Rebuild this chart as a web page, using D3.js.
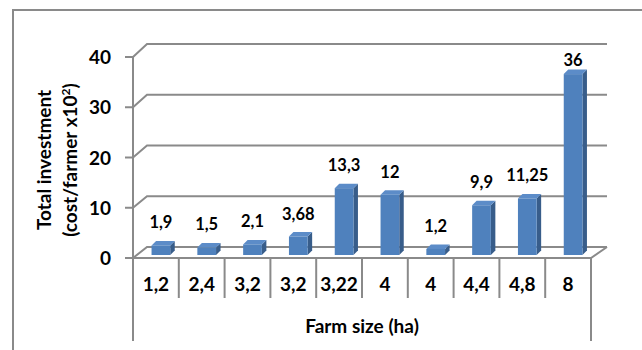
<!DOCTYPE html>
<html>
<head>
<meta charset="utf-8">
<script src="https://cdn.jsdelivr.net/npm/d3@7"></script>
<style>
  body { margin: 0; background: #fff; }
  text { font-family: Lato, "Noto Sans", sans-serif; font-weight: bold; fill: #000; }
</style>
</head>
<body>
<div id="chart-area"></div>
<script>
const farmSizes = ['1,2', '2,4', '3,2', '3,2', '3,22', '4', '4', '4,4', '4,8', '8'];
const investment = [1.9, 1.5, 2.1, 3.68, 13.3, 12, 1.2, 9.9, 11.25, 36];
const valueLabels = ['1,9', '1,5', '2,1', '3,68', '13,3', '12', '1,2', '9,9', '11,25', '36'];
const yTicks = [0, 10, 20, 30, 40];

const drawChart = () => {
  const chartSize = { width: 642, height: 350 };
  const depth = { dx: 14, dy: -11 };
  const grid = '#8a8a8a';

  const svg = d3.select('#chart-area')
    .append('svg')
    .attr('width', chartSize.width)
    .attr('height', chartSize.height);

  // outer chart border (runs off the right/bottom of the picture)
  svg.append('rect')
    .attr('x', 13).attr('y', 10)
    .attr('width', 660).attr('height', 360)
    .attr('fill', 'none').attr('stroke', '#8a8a8a').attr('stroke-width', 2);

  const x = d3.scaleBand()
    .domain(d3.range(farmSizes.length))
    .range([133, 591]);

  const yFront = d3.scaleLinear().domain([0, 40]).range([258, 57]);
  const yBack = d3.scaleLinear().domain([0, 40]).range([258 + depth.dy, 57 + depth.dy - 2]);
  const yBar = d3.scaleLinear().domain([0, 40]).range([255, 54]);

  const left = x.range()[0], right = x.range()[1];

  // back wall gridlines with the little diagonal to the front axis
  const g = svg.append('g');
  yTicks.forEach(t => {
    g.append('polyline')
      .attr('points', `${left},${yFront(t)} ${left + depth.dx},${yBack(t)} ${right + depth.dx + 2},${yBack(t)}`)
      .attr('fill', 'none').attr('stroke', grid).attr('stroke-width', 2);
  });
  // floor front edge and right edge
  g.append('polyline')
    .attr('points', `${left},${yFront(0)} ${right},${yFront(0)} ${right + depth.dx + 2},${yBack(0)}`)
    .attr('fill', 'none').attr('stroke', grid).attr('stroke-width', 2);

  // y axis line + ticks
  g.append('line')
    .attr('x1', left).attr('x2', left)
    .attr('y1', yFront(40)).attr('y2', 341)
    .attr('stroke', grid).attr('stroke-width', 2);
  yTicks.forEach(t => {
    g.append('line')
      .attr('x1', left - 8).attr('x2', left)
      .attr('y1', yFront(t)).attr('y2', yFront(t))
      .attr('stroke', grid).attr('stroke-width', 2);
    g.append('text')
      .attr('x', 111).attr('y', yFront(t) + 7)
      .attr('text-anchor', 'end')
      .style('font-size', '19px')
      .text(t);
  });

  // category table separators
  farmSizes.forEach((c, i) => {
    const xr = x(i) + x.bandwidth();
    g.append('line')
      .attr('x1', xr).attr('x2', xr)
      .attr('y1', yFront(0)).attr('y2', i === farmSizes.length - 1 ? 341 : 298)
      .attr('stroke', grid).attr('stroke-width', 2);
    g.append('text')
      .attr('x', x(i) + x.bandwidth() / 2).attr('y', 291)
      .attr('text-anchor', 'middle')
      .style('font-size', '19px')
      .text(c);
  });

  // 3D bars
  const barW = 18.7, sideDx = 4.5, sideDy = -4.5, shift = 5;
  const bars = svg.append('g').selectAll('g').data(investment).enter().append('g');
  bars.each(function (v, i) {
    const b = d3.select(this);
    const x0 = x(i) + x.bandwidth() / 2 + shift - barW / 2;
    const x1 = x0 + barW;
    const yt = yBar(v), yb = yBar(0);
    b.append('polygon')
      .attr('points', `${x1},${yt} ${x1 + sideDx},${yt + sideDy} ${x1 + sideDx},${yb + sideDy} ${x1},${yb}`)
      .attr('fill', '#385D8A');
    b.append('polygon')
      .attr('points', `${x0},${yt} ${x0 + sideDx},${yt + sideDy} ${x1 + sideDx},${yt + sideDy} ${x1},${yt}`)
      .attr('fill', '#5C8CC8');
    b.append('rect')
      .attr('x', x0).attr('y', yt)
      .attr('width', barW).attr('height', yb - yt)
      .attr('fill', '#4F81BD');
    b.append('text')
      .attr('x', x0 + barW / 2).attr('y', Math.max(yt - 17, 66))
      .attr('text-anchor', 'middle')
      .style('font-size', '16.5px')
      .text(valueLabels[i]);
  });

  // axis titles
  svg.append('text')
    .attr('x', 362).attr('y', 333)
    .attr('text-anchor', 'middle')
    .style('font-size', '19px')
    .text('Farm size (ha)');

  const yt = svg.append('text')
    .attr('transform', 'translate(45,160) rotate(-90)')
    .attr('text-anchor', 'middle')
    .style('font-size', '19px');
  yt.append('tspan').attr('x', 0).attr('y', 6).text('Total investment');
  yt.append('tspan').attr('x', 0).attr('y', 32).text('(cost/farmer x10');
  yt.append('tspan').attr('dy', -7).style('font-size', '12px').text('2');
  yt.append('tspan').attr('dy', 7).text(')');
};

window.onload = drawChart;
</script>
</body>
</html>
